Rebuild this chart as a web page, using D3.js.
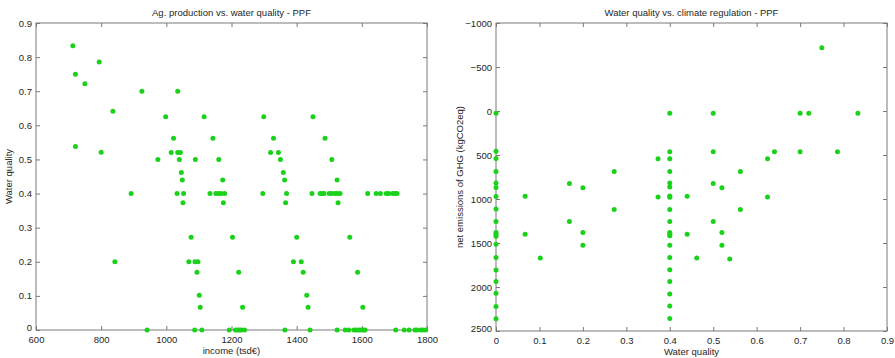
<!DOCTYPE html>
<html>
<head>
<meta charset="utf-8">
<script src="https://cdn.jsdelivr.net/npm/d3@7"></script>
<style>
  body { margin: 0; background: #fff; }
  svg { display: block; font-family: "Liberation Sans", Arial, sans-serif; }
</style>
</head>
<body>
<div id="chart"></div>
<script>
// left panel: income (tsd€) vs water quality
const agIncome = [
  713, 721, 750, 794, 836, 925, 1035, 721, 800,
  998, 1116, 1299, 1450,
  1022, 1143, 1329, 1487,
  1015, 1035, 1043, 1320, 1344,
  974, 1040, 1089, 1161, 1350, 1508,
  1046, 1359,
  1049, 1173, 1363, 1524,
  892, 1033, 1053, 1134, 1152, 1160, 1168, 1179, 1296, 1369, 1447, 1472, 1478, 1484,
  1500, 1506, 1516, 1524, 1533, 1618, 1644, 1657, 1675, 1683, 1695, 1702, 1708,
  1051, 1175, 1366, 1527,
  1076, 1203, 1400, 1563,
  842, 1069, 1088, 1097, 1390, 1414,
  1094, 1222, 1420, 1587,
  1101, 1431,
  1104, 1234, 1435, 1603,
  941, 1087, 1109, 1193, 1212, 1218, 1224, 1230, 1240, 1364, 1441, 1524, 1549, 1560,
  1576, 1583, 1591, 1598, 1605, 1610, 1704, 1730, 1745, 1763, 1769, 1781, 1788, 1796
];
const agWater = [
  0.833, 0.75, 0.722, 0.786, 0.641, 0.7, 0.7, 0.538, 0.521,
  0.625, 0.625, 0.625, 0.625,
  0.5625, 0.5625, 0.5625, 0.5625,
  0.52, 0.52, 0.52, 0.52, 0.52,
  0.5, 0.5, 0.5, 0.5, 0.5, 0.5,
  0.462, 0.462,
  0.44, 0.44, 0.44, 0.44,
  0.4, 0.4, 0.4, 0.4, 0.4, 0.4, 0.4, 0.4, 0.4, 0.4, 0.4, 0.4, 0.4, 0.4,
  0.4, 0.4, 0.4, 0.4, 0.4, 0.4, 0.4, 0.4, 0.4, 0.4, 0.4, 0.4, 0.4,
  0.373, 0.373, 0.373, 0.373,
  0.272, 0.272, 0.272, 0.272,
  0.2, 0.2, 0.2, 0.2, 0.2, 0.2,
  0.169, 0.169, 0.169, 0.169,
  0.102, 0.102,
  0.067, 0.067, 0.067, 0.067,
  0, 0, 0, 0, 0, 0, 0, 0, 0, 0, 0, 0, 0, 0,
  0, 0, 0, 0, 0, 0, 0, 0, 0, 0, 0, 0, 0, 0
];

// right panel: water quality vs net GHG emissions
const wqWater = [
  0, 0, 0, 0, 0, 0, 0, 0, 0, 0, 0, 0, 0, 0, 0, 0, 0, 0, 0,
  0.067, 0.067, 0.102, 0.169, 0.169, 0.2, 0.2, 0.2, 0.272, 0.272, 0.373, 0.373,
  0.4, 0.4, 0.4, 0.4, 0.4, 0.4, 0.4, 0.4, 0.4, 0.4,
  0.4, 0.4, 0.4, 0.4, 0.4, 0.4, 0.4, 0.4, 0.4, 0.4,
  0.44, 0.44, 0.462, 0.5, 0.5, 0.5, 0.5, 0.52, 0.52, 0.52, 0.538,
  0.5625, 0.5625, 0.625, 0.625, 0.641, 0.7, 0.7, 0.72, 0.75, 0.786, 0.833
];
const wqGhg = [
  25, 458, 541, 688, 819, 870, 972, 1114, 1255, 1382, 1400, 1423, 1514, 1666, 1806, 1938, 2071, 2223, 2360,
  968, 1400, 1670, 824, 1257, 873, 1382, 1525, 688, 1120, 544, 976,
  25, 464, 544, 688, 819, 865, 965, 980, 1120, 1256,
  1382, 1400, 1419, 1525, 1666, 1803, 1938, 2079, 2216, 2357,
  968, 1400, 1670, 25, 464, 824, 1257, 873, 1382, 1525, 1682,
  688, 1120, 544, 976, 464, 25, 464, 25, -720, 464, 25
];

const incomeTicks = [600, 800, 1000, 1200, 1400, 1600, 1800];
const waterTicks = [0, 0.1, 0.2, 0.3, 0.4, 0.5, 0.6, 0.7, 0.8, 0.9];
const ghgTicks = [-1000, -500, 0, 500, 1000, 1500, 2000, 2500];

const width = 895, height = 358;
const dotColor = "#1ad21a";
const axisColor = "#7a7a7a";
const textColor = "#262626";

const svg = d3.select("#chart").append("svg")
    .attr("width", width)
    .attr("height", height);

function drawPanel(box, cfg) {
    const x = d3.scaleLinear().domain(cfg.xDomain).range([box.left, box.right]);
    const y = d3.scaleLinear().domain(cfg.yDomain).range([box.bottom, box.top]);
    const g = svg.append("g");

    // inward ticks on all four sides, matlab-style
    const axes = [
        [d3.axisBottom(x).tickValues(cfg.xTicks).tickFormat(cfg.xFmt), `translate(0,${box.bottom})`, 6],
        [d3.axisTop(x).tickValues(cfg.xTicks).tickFormat(""), `translate(0,${box.top})`, 4],
        [d3.axisLeft(y).tickValues(cfg.yTicks).tickFormat(cfg.yFmt), `translate(${box.left},0)`, 4],
        [d3.axisRight(y).tickValues(cfg.yTicks).tickFormat(""), `translate(${box.right},0)`, 4]
    ];
    axes.forEach(([ax, tr, pad], k) => {
        const a = g.append("g")
            .attr("transform", tr)
            .call(ax.tickSizeInner(-4).tickSizeOuter(0).tickPadding(pad));
        a.select(".domain").remove();
        a.selectAll("line").attr("stroke", axisColor);
        a.selectAll("text")
            .attr("fill", textColor)
            .attr("font-size", "9.5px")
            .attr("font-family", "Liberation Sans, Arial, sans-serif");
        // lift the bottom-most y label a bit so it clears the first x label
        if (k === 2) {
            a.selectAll(".tick text")
                .filter(d => d === cfg.yDomain[0])
                .attr("dy", "0.1em");
        }
    });

    g.append("rect")
        .attr("x", box.left)
        .attr("y", box.top)
        .attr("width", box.right - box.left)
        .attr("height", box.bottom - box.top)
        .attr("fill", "none")
        .attr("stroke", axisColor)
        .attr("stroke-width", 1);

    g.append("g").selectAll("circle")
        .data(d3.range(cfg.xs.length))
        .enter().append("circle")
        .attr("cx", i => x(cfg.xs[i]))
        .attr("cy", i => y(cfg.ys[i]))
        .attr("r", 2.5)
        .attr("fill", dotColor);

    const cx = (box.left + box.right) / 2;
    g.append("text")
        .attr("x", cx)
        .attr("y", box.top - 7)
        .attr("text-anchor", "middle")
        .attr("font-size", "9.5px")
        .attr("fill", textColor)
        .text(cfg.title);

    g.append("text")
        .attr("x", cx)
        .attr("y", box.bottom + 24)
        .attr("text-anchor", "middle")
        .attr("font-size", "9.5px")
        .attr("fill", textColor)
        .text(cfg.xLabel);

    g.append("text")
        .attr("transform", `translate(${cfg.yLabelX},${(box.top + box.bottom) / 2}) rotate(-90)`)
        .attr("text-anchor", "middle")
        .attr("font-size", "9.5px")
        .attr("fill", textColor)
        .text(cfg.yLabel);
}

drawPanel({ left: 36, right: 427, top: 23, bottom: 330 }, {
    xDomain: [600, 1800], yDomain: [0, 0.9],
    xTicks: incomeTicks, yTicks: waterTicks,
    xFmt: d3.format("d"), yFmt: d => d === 0 ? "0" : d3.format(".1f")(d),
    xs: agIncome, ys: agWater,
    title: "Ag. production vs. water quality - PPF",
    xLabel: "income (tsd€)",
    yLabel: "Water quality",
    yLabelX: 12
});

drawPanel({ left: 496, right: 887, top: 23, bottom: 331 }, {
    xDomain: [0, 0.9], yDomain: [2500, -1000],
    xTicks: waterTicks, yTicks: ghgTicks,
    xFmt: d => d === 0 ? "0" : d3.format(".1f")(d), yFmt: d3.format("d"),
    xs: wqWater, ys: wqGhg,
    title: "Water quality vs. climate regulation - PPF",
    xLabel: "Water quality",
    yLabel: "net emissions of GHG (kgCO2eq)",
    yLabelX: 463
});
</script>
</body>
</html>
